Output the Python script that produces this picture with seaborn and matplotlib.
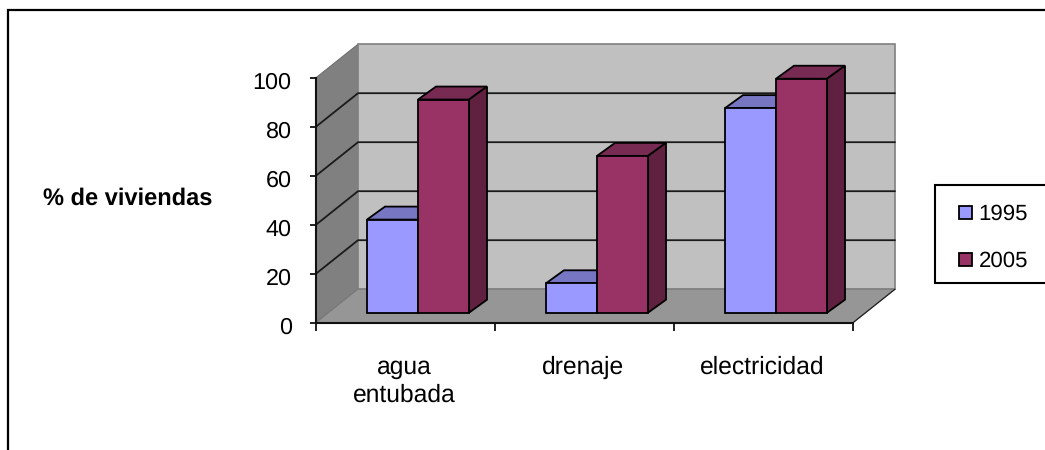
import matplotlib
matplotlib.use("Agg")
import matplotlib.pyplot as plt
from matplotlib.patches import Polygon, Rectangle, Patch
from matplotlib.lines import Line2D
from matplotlib.transforms import Affine2D
import pandas as pd
import seaborn as sns

# Chart data
servicios = ["agua\nentubada", "drenaje", "electricidad"]
anios = ["1995", "2005"]
valores_1995 = [38, 12, 83.5]
valores_2005 = [87, 64, 95.5]
ticks_y = [0, 20, 40, 60, 80, 100]

# Colours
cara = {"1995": "#9999FF", "2005": "#993366"}
techo = {"1995": "#7676C2", "2005": "#772A52"}
lado = {"1995": "#5A5A96", "2005": "#60203F"}
pared_fondo = "#C0C0C0"
pared_lateral = "#808080"
piso = "#969696"

W, H, DPI = 1045, 450, 100
sns.set_theme(style="white")
plt.rcParams["font.family"] = ["Liberation Sans", "DejaVu Sans"]
plt.rcParams["text.hinting"] = "no_hinting"

fig = plt.figure(figsize=(W / DPI, H / DPI), dpi=DPI, facecolor="white")

# Front plane of the oblique box, in pixels
izq, der, base, cima = 316, 853, 322.7, 77.7
ax = fig.add_axes([izq / W, (H - base) / H, (der - izq) / W, (base - cima) / H])
ax.patch.set_alpha(0)

df = pd.DataFrame({
    "servicio": servicios * 2,
    "anio": [anios[0]] * 3 + [anios[1]] * 3,
    "pct": valores_1995 + valores_2005,
})
sns.barplot(data=df, x="servicio", y="pct", hue="anio", palette=cara, saturation=1,
            width=0.57, edgecolor="black", linewidth=1.3, legend=False, ax=ax)
ax.set_xlim(-0.5, 2.5)
ax.set_ylim(0, 100)

# Pixel offsets converted to data units
px_x = 3 / (der - izq)
px_y = 100 / (base - cima)
FONDO_X, FONDO_Y = 42 * px_x, 33.5 * px_y       # depth of the whole box
BARRA_X, BARRA_Y = 12.5 * px_x, 10 * px_y       # front of the bars inside the box
PROF_X, PROF_Y = 18 * px_x, 13 * px_y           # depth of each bar


def poligono(puntos, color, borde="none", lw=0.0, z=1.0):
    ax.add_patch(Polygon(puntos, closed=True, facecolor=color, edgecolor=borde,
                         linewidth=lw, zorder=z, clip_on=False, joinstyle="miter"))


x0, x1 = -0.5, 2.5
# Floor and walls
poligono([(x0, 0), (x1, 0), (x1 + FONDO_X, FONDO_Y), (x0 + FONDO_X, FONDO_Y)], piso, "#7A7A7A", 0.7, 0.6)
poligono([(x0, 0), (x0, 100), (x0 + FONDO_X, 100 + FONDO_Y), (x0 + FONDO_X, FONDO_Y)],
         pared_lateral, "#6A6A6A", 0.7, 0.5)
poligono([(x0 + FONDO_X, FONDO_Y), (x1 + FONDO_X, FONDO_Y), (x1 + FONDO_X, 100 + FONDO_Y),
          (x0 + FONDO_X, 100 + FONDO_Y)], pared_fondo, "#808080", 1.2, 0.5)
ax.plot([x1, x1 + FONDO_X], [0, FONDO_Y], color="#222222", lw=0.9, zorder=0.8, clip_on=False)

# Gridlines across the side wall and the back wall
for v in ticks_y[1:-1]:
    ax.plot([x0, x0 + FONDO_X, x1 + FONDO_X], [v, v + FONDO_Y, v + FONDO_Y],
            color="#1A1A1A", lw=1.3, zorder=0.9, clip_on=False, solid_joinstyle="miter")

# Extrude the bars: shift each front face into the box and add its top and side
desplazar = Affine2D().translate(BARRA_X, BARRA_Y) + ax.transData
for i, (anio, barras) in enumerate(zip(anios, ax.containers)):
    for barra in barras:
        bx0 = barra.get_x() + BARRA_X
        bx1 = bx0 + barra.get_width()
        y0 = BARRA_Y
        y1 = barra.get_height() + BARRA_Y
        z = 2 + i
        poligono([(bx0, y1), (bx1, y1), (bx1 + PROF_X, y1 + PROF_Y), (bx0 + PROF_X, y1 + PROF_Y)],
                 techo[anio], "black", 1.3, z)
        poligono([(bx1, y0), (bx1, y1), (bx1 + PROF_X, y1 + PROF_Y), (bx1 + PROF_X, y0 + PROF_Y)],
                 lado[anio], "black", 1.3, z)
        barra.set_transform(desplazar)
        barra.set_zorder(z + 0.5)
        barra.set_clip_on(False)

# Axes
sns.despine(ax=ax, top=True, right=True)
for s in ("left", "bottom"):
    ax.spines[s].set_linewidth(1.5)
    ax.spines[s].set_color("#111111")
    ax.spines[s].set_zorder(1.5)

ax.set_yticks(ticks_y)
ax.tick_params(axis="y", length=4.5, width=1.3, color="#111111", pad=13, labelsize=16.8,
               left=True, labelcolor="black")
ax.set_xticks([0, 1, 2])
ax.set_xticklabels(servicios, linespacing=1.28)
ax.set_xticks([-0.5, 0.5, 1.5, 2.5], minor=True)
ax.tick_params(axis="x", which="major", length=0, pad=23.5, labelsize=17.7, labelcolor="black")
ax.tick_params(axis="x", which="minor", length=5.5, width=1.3, color="#111111", bottom=True)

for lab in ax.get_yticklabels():
    lab.set_transform(lab.get_transform() + Affine2D().translate(0, -3))
for lab in ax.get_xticklabels():
    lab.set_transform(lab.get_transform() + Affine2D().translate(-1, 0))

ax.set_xlabel("")
ax.set_ylabel("% de viviendas", rotation=0, fontsize=17, fontweight="bold",
              ha="center", va="center", color="black")
ax.yaxis.set_label_coords((127.5 - izq) / (der - izq), (base - 199) / (base - cima))

# Outer frame: only the top and left edges fall inside the canvas
fx = lambda p: p / W
fy = lambda p: (H - p) / H
fig.add_artist(Line2D([fx(7.5), fx(7.5), 1.0], [0.0, fy(9.5), fy(9.5)], color="black", lw=1.6,
                      solid_joinstyle="miter"))

# Legend box runs past the right edge of the canvas
fig.add_artist(Rectangle((fx(935), fy(282.7)), 0.2, (282.7 - 185) / H, transform=fig.transFigure,
                         facecolor="white", edgecolor="black", linewidth=1.5))
manejadores = [Patch(facecolor=cara[a], edgecolor="black", linewidth=1.3, label=a) for a in anios]
fig.legend(handles=manejadores, loc="center left", bbox_to_anchor=(fx(959), fy(238)),
           frameon=False, fontsize=16, labelcolor="black", handlelength=0.58, handleheight=0.52,
           handletextpad=0.3, labelspacing=1.2, borderpad=0, borderaxespad=0)

fig.savefig("out.png", dpi=DPI, facecolor="white")
